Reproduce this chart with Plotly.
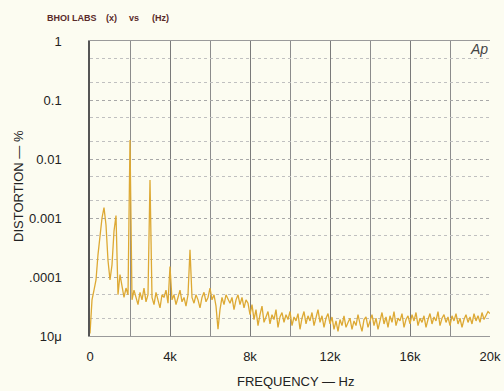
import plotly.graph_objects as go

# Frequencies (Hz), 100 Hz steps 0..20 kHz
freq_hz = list(range(0, 20001, 100))

# Distortion (%), 1 kHz per row
distortion_pct = [
    1.1e-5, 4.1e-5, 6.0e-5, 8.9e-5, 2.4e-4, 5.2e-4, 1.0e-3, 1.5e-3, 7.6e-4, 1.9e-4,
    8.9e-5, 1.6e-4, 6.0e-4, 1.1e-3, 5.0e-5, 1.1e-4, 7.3e-5, 4.5e-5, 6.5e-5, 5.0e-5,
    2.1e-2, 4.1e-5, 6.0e-5, 4.5e-5, 3.4e-5, 5.5e-5, 4.1e-5, 6.5e-5, 3.8e-5, 5.0e-5,
    4.4e-3, 4.5e-5, 3.4e-5, 5.5e-5, 4.1e-5, 3.0e-5, 5.0e-5, 4.5e-5, 6.0e-5, 3.6e-5,
    1.5e-4, 4.1e-5, 5.0e-5, 3.4e-5, 4.5e-5, 6.0e-5, 3.8e-5, 4.5e-5, 3.2e-5, 5.0e-5,
    2.9e-4, 4.5e-5, 3.6e-5, 5.0e-5, 4.1e-5, 3.0e-5, 4.5e-5, 5.5e-5, 3.8e-5, 4.5e-5,
    6.5e-5, 4.1e-5, 5.0e-5, 3.2e-5, 1.3e-5, 2.8e-5, 4.5e-5, 3.4e-5, 5.0e-5, 4.1e-5,
    3.6e-5, 4.5e-5, 2.8e-5, 4.1e-5, 5.0e-5, 3.4e-5, 4.5e-5, 3.0e-5, 4.1e-5, 3.6e-5,
    2.3e-5, 3.4e-5, 1.9e-5, 2.8e-5, 1.5e-5, 2.3e-5, 3.2e-5, 1.7e-5, 2.1e-5, 2.6e-5,
    1.6e-5, 2.3e-5, 1.9e-5, 2.8e-5, 1.4e-5, 2.1e-5, 2.5e-5, 1.7e-5, 2.3e-5, 1.9e-5,
    2.6e-5, 1.5e-5, 2.1e-5, 1.8e-5, 2.4e-5, 1.3e-5, 2.0e-5, 2.6e-5, 1.6e-5, 2.2e-5,
    1.8e-5, 2.5e-5, 1.5e-5, 2.1e-5, 2.8e-5, 1.7e-5, 2.2e-5, 1.4e-5, 2.0e-5, 2.4e-5,
    1.6e-5, 2.1e-5, 1.3e-5, 1.8e-5, 1.2e-5, 1.9e-5, 1.5e-5, 2.2e-5, 1.4e-5, 1.7e-5,
    2.0e-5, 1.3e-5, 1.8e-5, 1.5e-5, 2.3e-5, 1.6e-5, 1.2e-5, 1.9e-5, 2.1e-5, 1.4e-5,
    1.8e-5, 2.3e-5, 1.5e-5, 2.0e-5, 1.3e-5, 1.9e-5, 2.5e-5, 1.6e-5, 2.1e-5, 1.4e-5,
    2.2e-5, 1.7e-5, 2.6e-5, 1.5e-5, 2.0e-5, 1.8e-5, 2.4e-5, 1.4e-5, 1.9e-5, 2.2e-5,
    1.6e-5, 2.3e-5, 1.8e-5, 2.5e-5, 1.5e-5, 2.0e-5, 1.7e-5, 2.2e-5, 1.4e-5, 1.9e-5,
    2.4e-5, 1.6e-5, 2.1e-5, 1.8e-5, 2.6e-5, 1.5e-5, 2.0e-5, 2.3e-5, 1.7e-5, 2.1e-5,
    1.5e-5, 2.2e-5, 1.8e-5, 2.4e-5, 1.6e-5, 2.0e-5, 1.4e-5, 1.9e-5, 2.3e-5, 1.7e-5,
    2.1e-5, 1.6e-5, 2.4e-5, 1.8e-5, 2.2e-5, 1.7e-5, 2.5e-5, 1.9e-5, 2.3e-5, 2.6e-5,
    2.4e-5,
]

x_tick_vals = [0, 4000, 8000, 12000, 16000, 20000]
x_tick_text = ["0", "4k", "8k", "12k", "16k", "20k"]
y_tick_vals = [1, 0.1, 0.01, 0.001, 0.0001, 0.00001]
y_tick_text = ["1", "0.1", "0.01", "0.001", ".0001", "10\u03bc"]

BG = "#FCFCF1"
FONT = "Liberation Sans"
L, R, T, B = 90, 14, 41, 55
W, H = 504, 391

fig = go.Figure()
fig.add_trace(go.Scatter(
    x=freq_hz, y=distortion_pct, mode="lines",
    line=dict(color="#DDA934", width=1.3),
    hoverinfo="skip", showlegend=False,
))

fig.update_layout(
    width=W, height=H,
    margin=dict(l=L, r=R, t=T, b=B, autoexpand=False),
    paper_bgcolor=BG, plot_bgcolor=BG,
    font=dict(family=FONT, color="#222222", size=13),
    xaxis=dict(
        range=[0, 20000], tickvals=x_tick_vals, ticktext=x_tick_text,
        automargin=False,
        showgrid=True, gridcolor="#7a7a7a", gridwidth=1.2,
        minor=dict(dtick=2000, showgrid=True, gridcolor="#8c8c8c", gridwidth=1.2),
        zeroline=False, showline=True, linecolor="#9a9a9a", linewidth=1, mirror=True,
        ticks="", ticklabelstandoff=8,
        tickfont=dict(family=FONT, size=13, color="#222222"),
    ),
    yaxis=dict(
        type="log", range=[-5, 0], tickvals=y_tick_vals, ticktext=y_tick_text,
        automargin=False,
        showgrid=True, gridcolor="#a8a8a8", gridwidth=1, griddash="dot",
        minor=dict(showgrid=True, gridcolor="#c0c0c0", gridwidth=1, griddash="dot"),
        zeroline=False, showline=True, linecolor="#555555", linewidth=1.5,
        ticks="", ticklabelstandoff=24,
        tickfont=dict(family=FONT, size=13, color="#222222"),
    ),
)

pw, ph = W - L - R, H - T - B


def px(x, y):
    return (x - L) / pw, 1 - (y - T) / ph


TITLE_COL = "#5a2a2a"
annots = [
    ("FREQUENCY \u2014 Hz", 296, 381, 0, "center", 13, "#222222"),
    ("DISTORTION \u2014 %", 18, 186, -90, "center", 13, "#222222"),
    ("<b>BHOI LABS</b>", 45, 18, 0, "left", 9, TITLE_COL),
    ("<b>(x)</b>", 104, 18, 0, "left", 9, TITLE_COL),
    ("<b>vs</b>", 127, 18, 0, "left", 9, TITLE_COL),
    ("<b>(Hz)</b>", 150, 18, 0, "left", 9, TITLE_COL),
    ("<i>Ap</i>", 479, 49, 0, "center", 14, "#444444"),
]
for text, ax, ay, ang, xa, size, col in annots:
    xx, yy = px(ax, ay)
    fig.add_annotation(text=text, x=xx, y=yy, xref="paper", yref="paper",
                       xanchor=xa, yanchor="middle", textangle=ang, showarrow=False,
                       font=dict(family=FONT, size=size, color=col))

fig.write_html(
    "out.html",
    config={"displayModeBar": False},
    post_script="document.body.style.margin='0';document.body.style.background='%s';" % BG,
)
